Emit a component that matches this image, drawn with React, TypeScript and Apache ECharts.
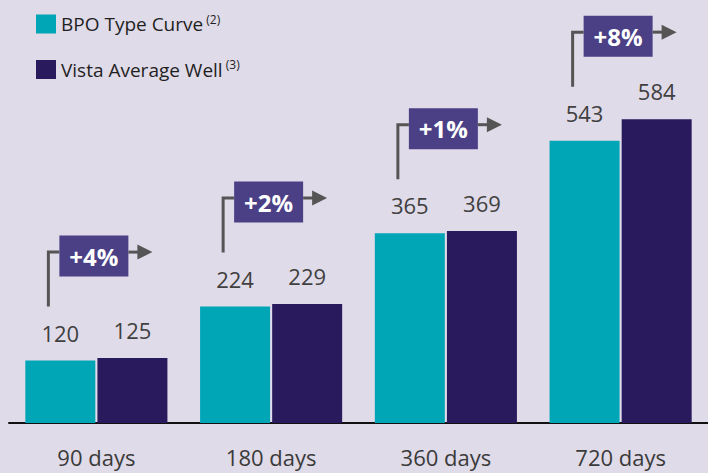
import React, { useEffect, useRef } from "react";
import * as echarts from "echarts";

const categories = ["90 days", "180 days", "360 days", "720 days"];
const bpoTypeCurve = [120, 224, 365, 543];
const vistaAverageWell = [125, 229, 369, 584];
const upliftLabels = ["+4%", "+2%", "+1%", "+8%"];

const FONT = "'Open Sans', sans-serif";

export default function App() {
  const ref = useRef<HTMLDivElement>(null);

  useEffect(() => {
    if (!ref.current) return;
    const chart = echarts.init(ref.current, null, { renderer: "svg" });

    const annotationData = categories.map((_, i) => [i, bpoTypeCurve[i], upliftLabels[i]]);

    const option: any = {
      animation: false,
      backgroundColor: "#e0dbe9",
      textStyle: { fontFamily: FONT },
      legend: {
        orient: "vertical",
        left: 31,
        top: 8,
        itemWidth: 20,
        itemHeight: 19,
        itemGap: 25,
        itemTextGap: 8,
        icon: "rect",
        data: ["BPO Type Curve", "Vista Average Well"],
        formatter: (name: string) =>
          name === "BPO Type Curve" ? `{n|${name}}{s| (2)}` : `{n|${name}}{s| (3)}`,
        textStyle: {
          rich: {
            n: { fontSize: 19, lineHeight: 22, color: "#1f1f1f", fontFamily: FONT },
            s: { fontSize: 12, lineHeight: 22, color: "#1f1f1f", fontFamily: FONT, verticalAlign: "top" },
          },
        },
      },
      grid: { left: 9, width: 703, top: 7, height: 416 },
      xAxis: {
        type: "category",
        data: categories,
        axisLine: { lineStyle: { color: "#111111", width: 2 } },
        axisTick: { show: false },
        axisLabel: { fontSize: 22, color: "#3a3a3a", margin: 23, fontFamily: FONT },
      },
      yAxis: {
        type: "value",
        min: 0,
        max: 800,
        show: false,
        splitLine: { show: false },
      },
      series: [
        {
          name: "BPO Type Curve",
          type: "bar",
          data: bpoTypeCurve,
          barWidth: 70,
          barGap: "3%",
          itemStyle: { color: "#00a6b6" },
          label: {
            show: true,
            position: "top",
            distance: 17,
            fontSize: 22,
            color: "#404040",
            fontFamily: FONT,
          },
        },
        {
          name: "Vista Average Well",
          type: "bar",
          data: vistaAverageWell,
          barWidth: 70,
          itemStyle: { color: "#291a5e" },
          label: {
            show: true,
            position: "top",
            distance: 17,
            fontSize: 22,
            color: "#404040",
            fontFamily: FONT,
          },
        },
        {
          type: "custom",
          data: annotationData,
          encode: { x: 0, y: 1 },
          z: 5,
          silent: true,
          renderItem: (params: any, api: any) => {
            const p = api.coord([api.value(0), api.value(1)]);
            const cx = p[0];
            const top = p[1];
            const boxX = cx - 37;
            const boxY = top - 125;
            const boxW = 69;
            const boxH = 41;
            const lineX = cx - 48;
            const elbowY = boxY + 16.5;
            const boxR = boxX + boxW;
            const stroke = "#555555";
            return {
              type: "group",
              children: [
                {
                  type: "polyline",
                  shape: { points: [[lineX, top - 54], [lineX, elbowY], [boxX, elbowY]] },
                  style: { stroke, lineWidth: 3, fill: null },
                },
                {
                  type: "rect",
                  shape: { x: boxX, y: boxY, width: boxW, height: boxH },
                  style: { fill: "#4b3f86" },
                },
                {
                  type: "text",
                  style: {
                    text: upliftLabels[params.dataIndex],
                    x: boxX + boxW / 2,
                    y: boxY + boxH / 2,
                    align: "center",
                    verticalAlign: "middle",
                    fill: "#ffffff",
                    font: `bold 24px ${FONT}`,
                  },
                },
                {
                  type: "line",
                  shape: { x1: boxR, y1: elbowY, x2: boxR + 12, y2: elbowY },
                  style: { stroke, lineWidth: 3 },
                },
                {
                  type: "polygon",
                  shape: {
                    points: [
                      [boxR + 9, elbowY - 7.5],
                      [boxR + 24, elbowY],
                      [boxR + 9, elbowY + 7.5],
                    ],
                  },
                  style: { fill: stroke },
                },
              ],
            };
          },
        },
      ],
    };

    chart.setOption(option);
    return () => chart.dispose();
  }, []);

  return (
    <div
      ref={ref}
      style={{ position: "fixed", left: 0, top: 0, width: 708, height: 473 }}
    />
  );
}
